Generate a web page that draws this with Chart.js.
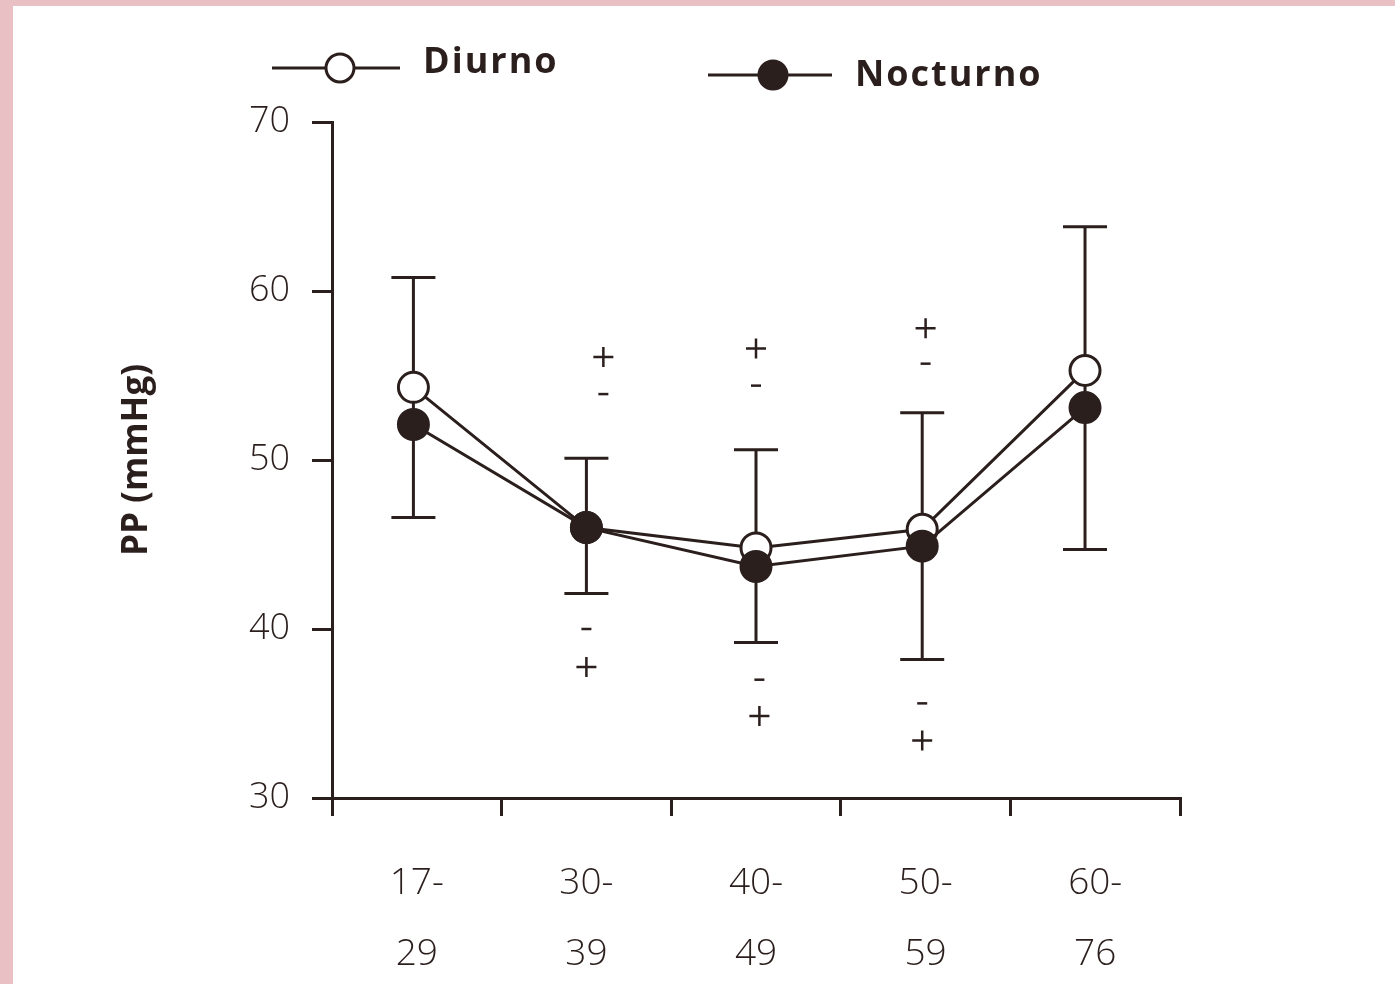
<!DOCTYPE html>
<html>
<head>
<meta charset="utf-8">
<script src="https://cdn.jsdelivr.net/npm/chart.js@4.4.1/dist/chart.umd.min.js"></script>
<style>
  html, body { margin: 0; padding: 0; width: 1395px; height: 984px; overflow: hidden; background: #e9c1c5; }
  #wrap { position: absolute; left: 13px; top: 6px; width: 1382px; height: 978px; background: #fff; }
</style>
</head>
<body>
<div id="wrap"><canvas id="chart"></canvas></div>
<script>
const ageGroups = [["17-", "29"], ["30-", "39"], ["40-", "49"], ["50-", "59"], ["60-", "76"]];
const groupX = [-0.02, 1, 2, 2.98, 3.94];
const diurno = [54.3, 46.0, 44.8, 45.9, 55.3];
const nocturno = [52.1, 46.0, 43.7, 44.9, 53.1];
const sdUpper = [60.8, 50.1, 50.6, 52.8, 63.8];
const sdLower = [46.6, 42.1, 39.2, 38.2, 44.7];
// significance marks (+ / -) above and below the bars
const upperMarkX = [null, 1.1, 2, 3, null];
const plusAbove = [null, 56.1, 56.6, 57.8, null];
const minusAbove = [null, 53.9, 54.4, 55.7, null];
const lowerMarkX = [null, 1, 2.02, 2.98, null];
const minusBelow = [null, 40.0, 37.0, 35.6, null];
const plusBelow = [null, 37.75, 34.85, 33.4, null];
const yTicks = [30, 40, 50, 60, 70];

const ink = "#2b1f1d";

function points(xs, ys) {
  return ys.map((v, i) => (v == null ? null : { x: xs[i], y: v })).filter(Boolean);
}

const errorBars = {
  id: "errorBars",
  beforeDatasetsDraw(chart) {
    const { ctx, scales } = chart;
    const xs = scales.xv, ys = scales.y;
    ctx.save();
    ctx.strokeStyle = ink;
    ctx.lineWidth = 3;
    sdUpper.forEach((hi, i) => {
      const x = xs.getPixelForValue(groupX[i]);
      const top = ys.getPixelForValue(hi);
      const bot = ys.getPixelForValue(sdLower[i]);
      ctx.beginPath();
      ctx.moveTo(x, top); ctx.lineTo(x, bot);
      ctx.moveTo(x - 22, top); ctx.lineTo(x + 22, top);
      ctx.moveTo(x - 22, bot); ctx.lineTo(x + 22, bot);
      ctx.stroke();
    });
    ctx.restore();
  }
};

// legend: line with marker, then bold label
const pairLegend = {
  id: "pairLegend",
  afterDraw(chart) {
    const ctx = chart.ctx;
    const items = [
      { ds: chart.data.datasets[0], x0: 259, x1: 387, cx: 327, y: 62, tx: 410, ty: 57 },
      { ds: chart.data.datasets[1], x0: 695, x1: 819, cx: 760, y: 69, tx: 842, ty: 70 }
    ];
    ctx.save();
    items.forEach(it => {
      ctx.strokeStyle = it.ds.borderColor;
      ctx.lineWidth = 3;
      ctx.beginPath();
      ctx.moveTo(it.x0, it.y); ctx.lineTo(it.x1, it.y);
      ctx.stroke();
      ctx.beginPath();
      ctx.arc(it.cx, it.y, 14, 0, Math.PI * 2);
      ctx.fillStyle = it.ds.pointBackgroundColor;
      ctx.fill();
      ctx.stroke();
      ctx.fillStyle = ink;
      ctx.font = "bold 36px 'Open Sans'";
      ctx.letterSpacing = "2px";
      ctx.textBaseline = "middle";
      ctx.textAlign = "left";
      ctx.fillText(it.ds.label, it.tx, it.ty);
    });
    ctx.restore();
  }
};

new Chart(document.getElementById("chart"), {
  type: "line",
  data: {
    labels: ageGroups,
    datasets: [
      {
        label: "Diurno",
        data: points(groupX, diurno),
        xAxisID: "xv",
        borderColor: ink,
        borderWidth: 3,
        pointRadius: 15,
        pointBorderWidth: 3,
        pointBorderColor: ink,
        pointBackgroundColor: "#ffffff",
        tension: 0,
        order: 1
      },
      {
        label: "Nocturno",
        data: points(groupX, nocturno),
        xAxisID: "xv",
        borderColor: ink,
        borderWidth: 3,
        pointRadius: 15,
        pointBorderWidth: 3,
        pointBorderColor: ink,
        pointBackgroundColor: ink,
        tension: 0,
        order: 0
      },
      {
        label: "+",
        data: points(upperMarkX, plusAbove).concat(points(lowerMarkX, plusBelow)),
        xAxisID: "xv",
        showLine: false,
        pointStyle: "cross",
        pointRadius: 10,
        pointBorderWidth: 2.5,
        pointBorderColor: ink,
        order: 2
      },
      {
        label: "-",
        data: points(upperMarkX, minusAbove).concat(points(lowerMarkX, minusBelow)),
        xAxisID: "xv",
        showLine: false,
        pointStyle: "line",
        pointRadius: 5,
        pointBorderWidth: 2.5,
        pointBorderColor: ink,
        order: 2
      }
    ]
  },
  options: {
    responsive: true,
    maintainAspectRatio: false,
    animation: false,
    layout: { padding: { top: 116, left: 103, right: 215, bottom: 0 } },
    plugins: {
      legend: { display: false },
      tooltip: { enabled: false }
    },
    scales: {
      x: {
        type: "category",
        offset: true,
        grid: { offset: true, drawOnChartArea: false, drawTicks: true, tickLength: 18, color: ink, lineWidth: 3 },
        border: { display: true, color: ink, width: 3 },
        ticks: {
          color: ink,
          padding: 32,
          maxRotation: 0,
          font: { family: "'Open Sans'", size: 37, weight: 300, lineHeight: 1.92 }
        },
        afterFit(scale) { scale.height = 186; }
      },
      xv: { type: "linear", display: false, min: -0.5, max: 4.5 },
      y: {
        min: 30,
        max: 70,
        afterBuildTicks(scale) { scale.ticks = yTicks.map(v => ({ value: v })); },
        grid: { drawOnChartArea: false, drawTicks: true, tickLength: 20, color: ink, lineWidth: 3 },
        border: { display: true, color: ink, width: 3 },
        ticks: {
          color: ink,
          padding: 22,
          font: { family: "'Open Sans'", size: 36, weight: 300 }
        },
        title: {
          display: true,
          text: "PP (mmHg)",
          color: ink,
          padding: 0,
          font: { family: "'Open Sans'", size: 35, weight: "bold", lineHeight: 1.2 }
        },
        afterFit(scale) { scale.width = 216; }
      }
    }
  },
  plugins: [errorBars, pairLegend]
});
</script>
</body>
</html>
